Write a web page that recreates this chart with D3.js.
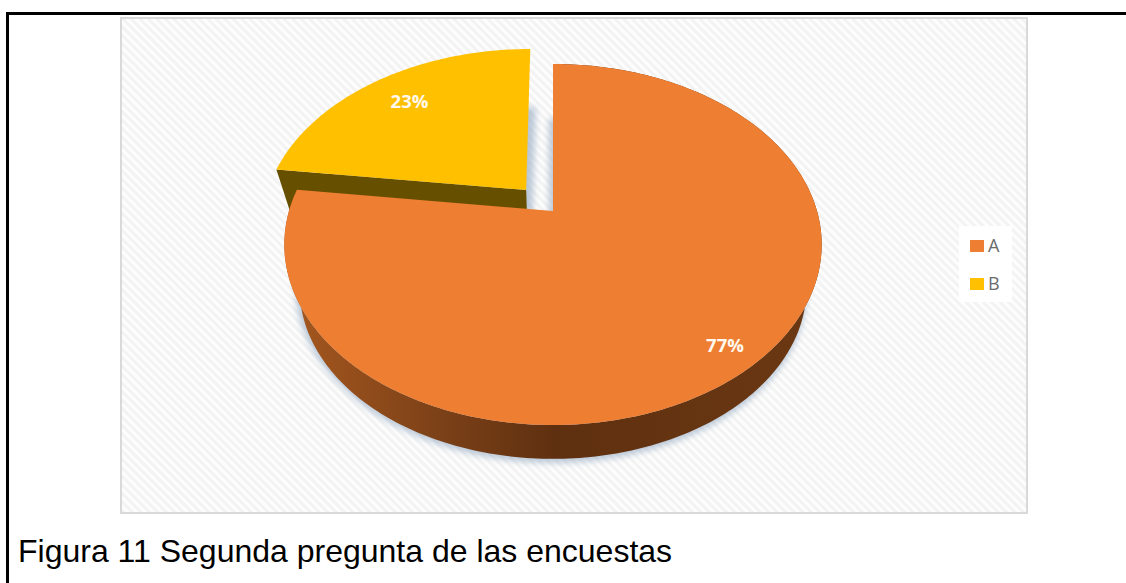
<!DOCTYPE html>
<html lang="es">
<head>
<meta charset="utf-8">
<script src="https://cdn.jsdelivr.net/npm/d3@7"></script>
<style>
  html, body { margin: 0; padding: 0; background: #fff; }
  svg { display: block; }
</style>
</head>
<body>
<svg id="chart" width="1126" height="583"></svg>
<script>
// Survey answers
const categories = ["A", "B"];
const shares = [77, 23];
const sliceColors = ["#ee7e32", "#ffc000"];
const captionText = "Figura 11 Segunda pregunta de las encuestas";

const svg = d3.select("#chart");
const defs = svg.append("defs");

// Tilted-disc projection: plane coordinates (u right, v away from viewer) to screen
const apex = { x: 553, y: 211 };
const radiusX = 264, radiusY = 174.3, tilt = 0.1856;
const vanishY = 1018, bottomScale = 0.943;
const explodeB = { u: -0.104, v: 0.1233 };

function project(u, v, low) {
  const d = 1 + tilt * v;
  const x = apex.x + radiusX * u / d;
  const y = apex.y - radiusY * v / d;
  if (!low) return [x, y];
  return [apex.x + (x - apex.x) * bottomScale, vanishY + (y - vanishY) * bottomScale];
}

const pieLayout = d3.pie().sort(null).value(d => d)(shares);
const angleStep = Math.PI / 180;

function rimPoints(slice, off, low) {
  const angles = d3.range(slice.startAngle, slice.endAngle, angleStep).concat(slice.endAngle);
  return angles.map(a => project(off.u + Math.sin(a), off.v + Math.cos(a), low));
}
const line = d3.line();
const noOffset = { u: 0, v: 0 };
const sliceA = pieLayout[0], sliceB = pieLayout[1];

// Panel
const stripe = defs.append("pattern")
  .attr("id", "panelStripes").attr("patternUnits", "userSpaceOnUse")
  .attr("width", 6).attr("height", 6).attr("patternTransform", "rotate(-45)");
stripe.append("rect").attr("width", 6).attr("height", 6).attr("fill", "#fdfdfd");
stripe.append("rect").attr("width", 3).attr("height", 6).attr("fill", "#f3f3f3");

svg.append("rect").attr("x", 121).attr("y", 18).attr("width", 906).attr("height", 495)
  .attr("fill", "url(#panelStripes)").attr("stroke", "#d9d9d9").attr("stroke-width", 2);

// Page frame
svg.append("path").attr("d", "M7.5,583V13.5H1126").attr("fill", "none")
  .attr("stroke", "#000").attr("stroke-width", 3);

// Soft shadows under the discs
const blur = defs.append("filter").attr("id", "soft")
  .attr("x", "-10%").attr("y", "-10%").attr("width", "120%").attr("height", "120%");
blur.append("feGaussianBlur").attr("stdDeviation", 3);

const shadow = svg.append("g").attr("filter", "url(#soft)").attr("fill", "#9fb2c8").attr("opacity", 0.7);
const rimA = rimPoints(sliceA, noOffset, true);
shadow.append("path").attr("transform", "translate(0,4)")
  .attr("d", line([...rimA, project(0, 0, true)]) + "Z");
shadow.append("path").attr("transform", "translate(-4,0)")
  .attr("d", line([...rimA, project(0, 0, true)]) + "Z");
const rimB = rimPoints(sliceB, explodeB, true);
shadow.append("path").attr("transform", "translate(4,3)")
  .attr("d", line([...rimB, project(explodeB.u, explodeB.v, true)]) + "Z");

// Slice B: wall along the straight edge, then the top face
const apexB = project(explodeB.u, explodeB.v, false);
const apexBLow = project(explodeB.u, explodeB.v, true);
const topB = rimPoints(sliceB, explodeB, false);
svg.append("path").attr("fill", "#665000")
  .attr("d", line([topB[0], apexB, apexBLow, rimB[0]]) + "Z");

svg.append("path").attr("fill", sliceColors[1])
  .attr("d", line([...topB, apexB]) + "Z");

// Slice A: curved wall shaded left to right, then the top face
const wallShade = defs.append("linearGradient").attr("id", "wallShade")
  .attr("gradientUnits", "userSpaceOnUse").attr("x1", 285).attr("x2", 823).attr("y1", 0).attr("y2", 0);
[[0, "#a7581f"], [0.3, "#7a4017"], [0.5, "#5f3010"], [1, "#6b3812"]].forEach(([o, c]) =>
  wallShade.append("stop").attr("offset", o).attr("stop-color", c));

const topA = rimPoints(sliceA, noOffset, false);
svg.append("path").attr("fill", "url(#wallShade)")
  .attr("d", line([...topA, ...rimA.slice().reverse()]) + "Z");

svg.append("path").attr("fill", sliceColors[0])
  .attr("d", line([...topA, project(0, 0, false)]) + "Z");

// Percent labels
const valueLabels = [
  { text: shares[0] + "%", x: 725, y: 352 },
  { text: shares[1] + "%", x: 409.5, y: 108 }
];
svg.selectAll("text.value").data(valueLabels).join("text")
  .attr("class", "value")
  .attr("x", d => d.x).attr("y", d => d.y)
  .attr("text-anchor", "middle")
  .attr("font-family", "'Open Sans', sans-serif")
  .attr("font-weight", 700).attr("font-size", 18.5)
  .attr("fill", "#fff8ee")
  .text(d => d.text);

// Legend
const legendY = d3.scalePoint().domain(categories).range([246, 284]);
svg.append("rect").attr("x", 959).attr("y", 226).attr("width", 53).attr("height", 76).attr("fill", "#fff");
const legend = svg.selectAll("g.legend").data(categories).join("g")
  .attr("class", "legend")
  .attr("transform", d => `translate(970,${legendY(d)})`);
legend.append("rect").attr("y", -6).attr("width", 14).attr("height", 12)
  .attr("fill", (d, i) => sliceColors[i]);
legend.append("text").attr("x", 18).attr("y", 6)
  .attr("font-family", "'Open Sans', sans-serif").attr("font-size", 18)
  .attr("fill", "#6b6b6b").text(d => d);

// Caption
svg.append("text").attr("x", 18).attr("y", 562)
  .attr("font-family", "'Liberation Sans', Arial, sans-serif").attr("font-size", 32)
  .attr("fill", "#000").text(captionText);
</script>
</body>
</html>
